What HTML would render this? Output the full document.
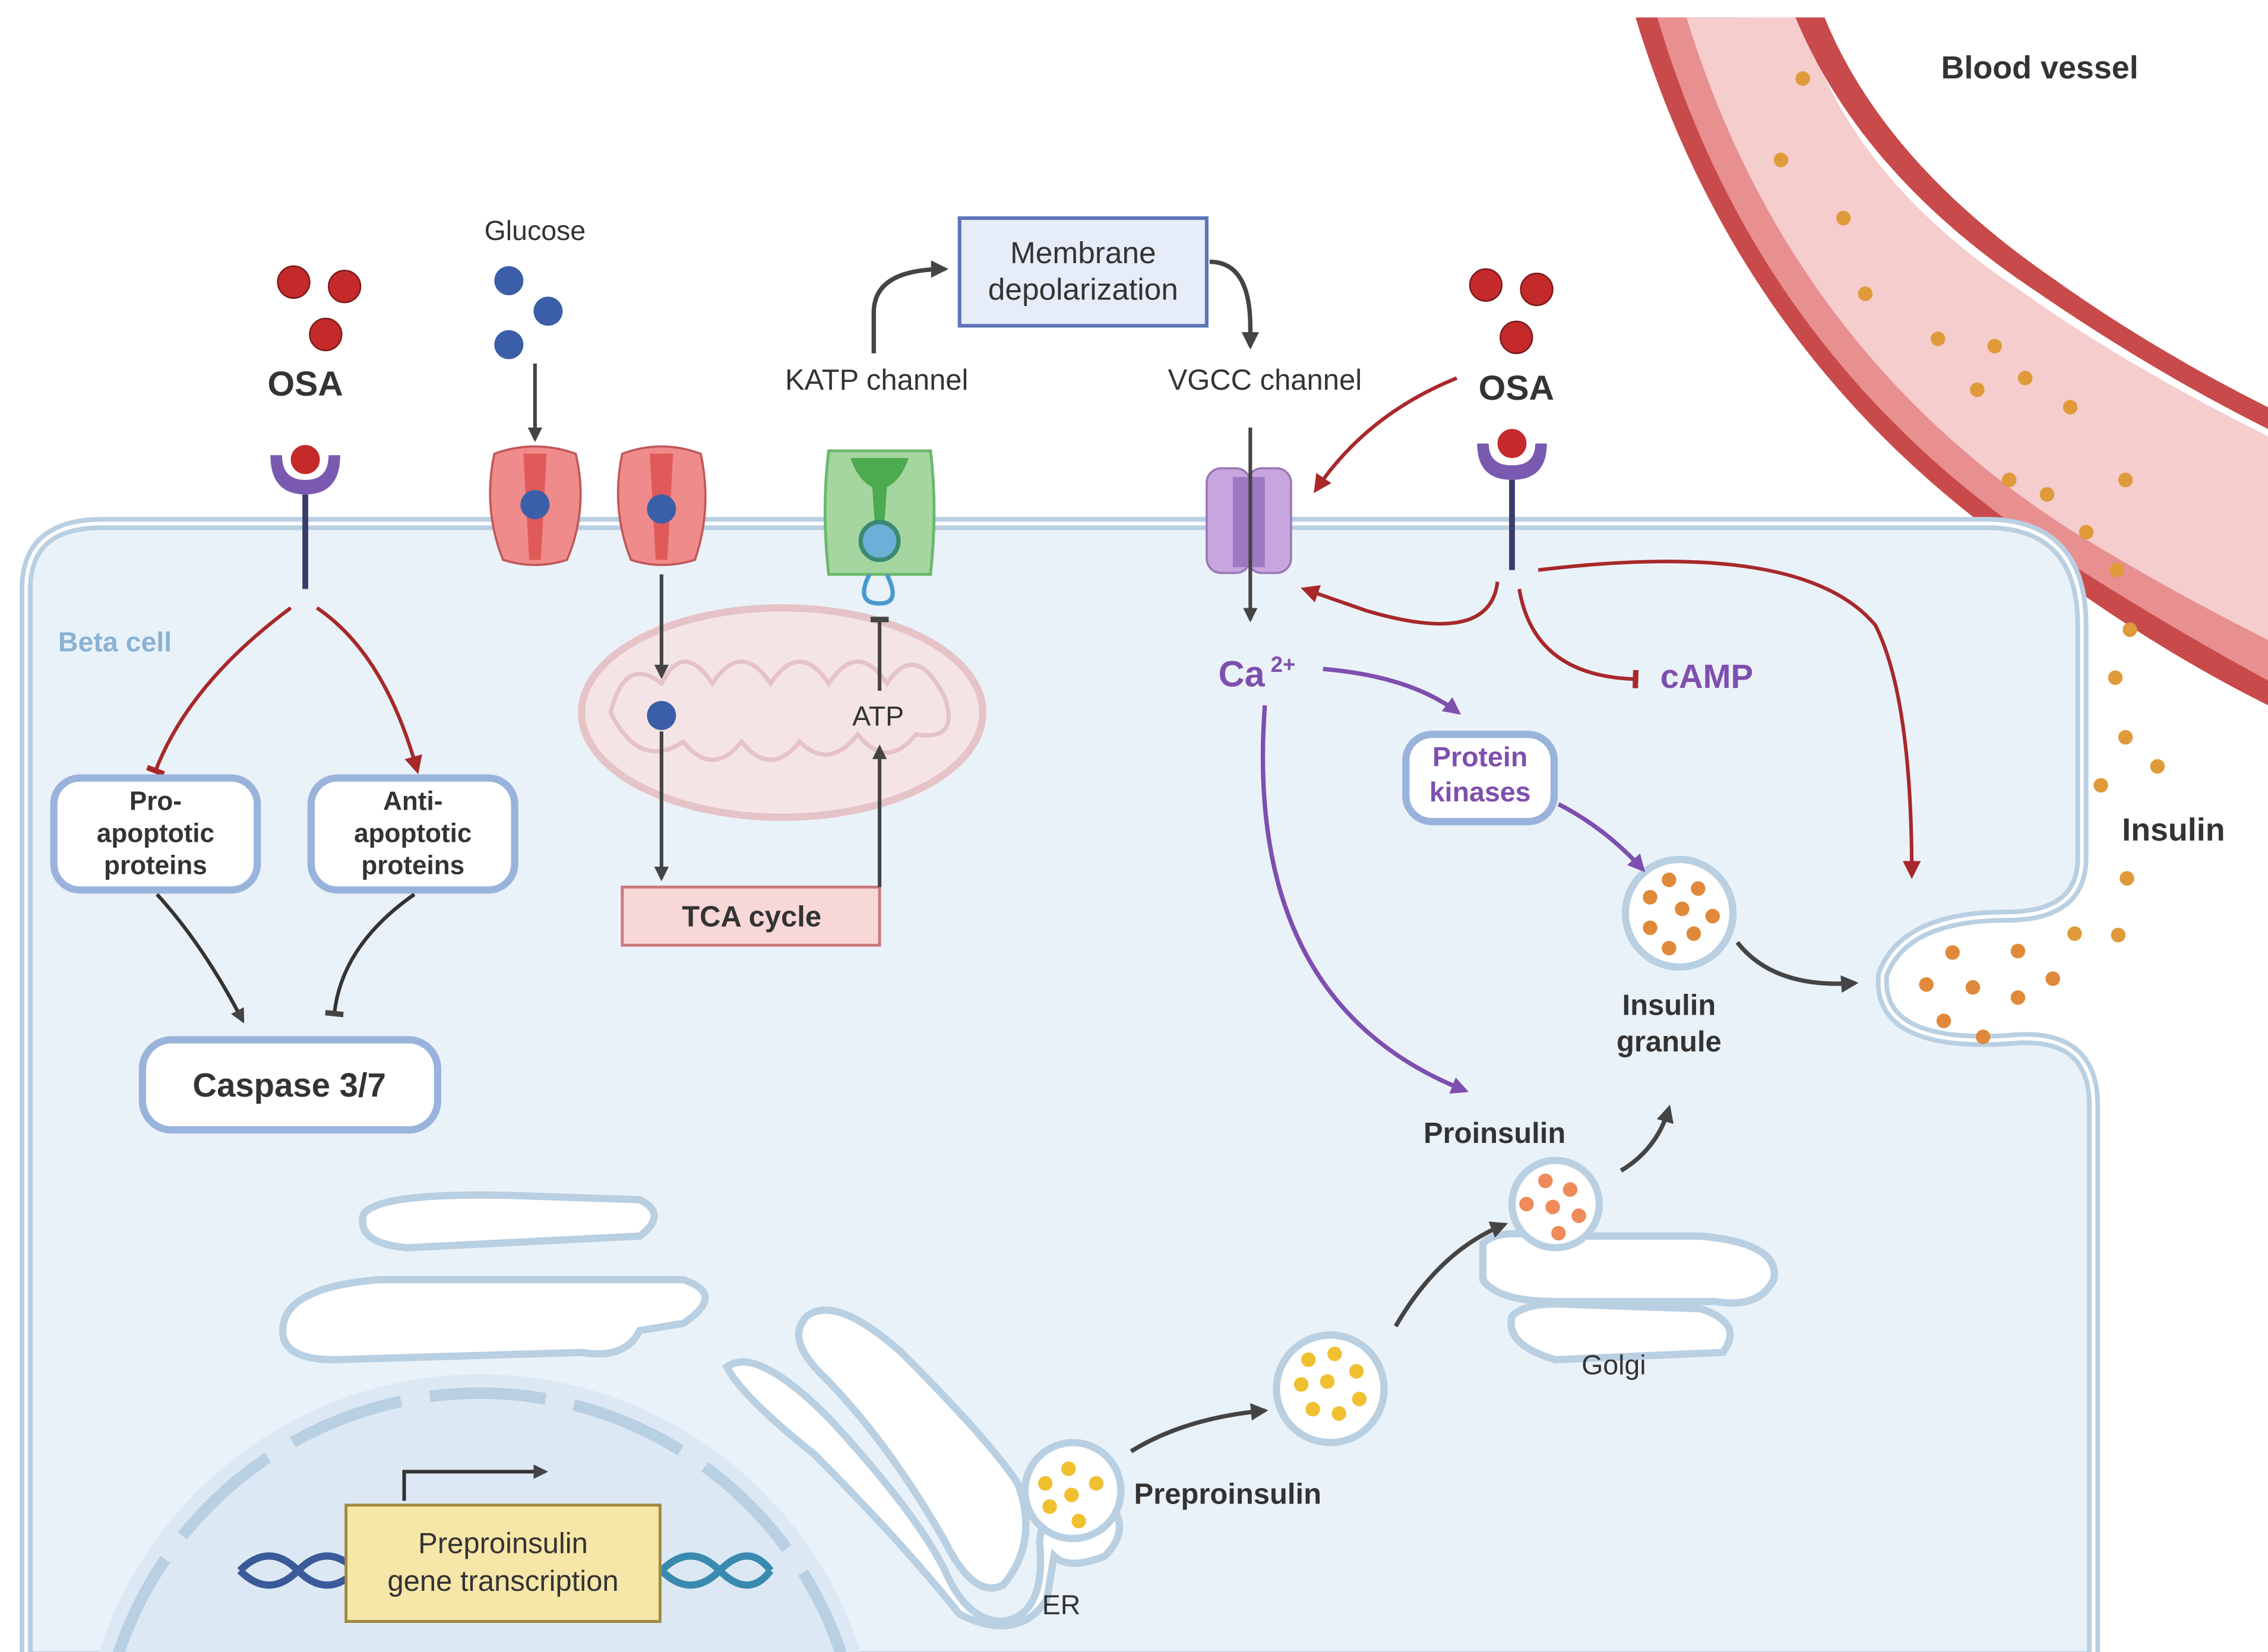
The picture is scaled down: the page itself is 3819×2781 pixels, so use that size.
<!DOCTYPE html>
<html><head><meta charset="utf-8"><style>
html,body{margin:0;padding:0;background:#fff;width:3819px;height:2781px;overflow:hidden}
svg{display:block;position:absolute;left:0;top:0}
text{font-family:"Liberation Sans",sans-serif}
</style></head><body>
<svg width="3819" height="2781" viewBox="0 0 1560 1136" preserveAspectRatio="none" xmlns="http://www.w3.org/2000/svg">
<defs>
<clipPath id="cp"><rect x="0" y="0" width="1560" height="1136"/></clipPath>
<marker id="ag" viewBox="0 0 10 10" refX="8" refY="5" markerWidth="4" markerHeight="4" orient="auto"><path d="M0,0L10,5L0,10z" fill="#444"/></marker>
<marker id="ar" viewBox="0 0 10 10" refX="8" refY="5" markerWidth="5" markerHeight="5" orient="auto"><path d="M0,0L10,5L0,10z" fill="#a8282a"/></marker>
<marker id="ap" viewBox="0 0 10 10" refX="8" refY="5" markerWidth="4" markerHeight="4" orient="auto"><path d="M0,0L10,5L0,10z" fill="#7e4fae"/></marker>
<marker id="tr" viewBox="0 0 10 10" refX="5" refY="5" markerWidth="5" markerHeight="5" orient="auto"><path d="M5,0L5,10" stroke="#a8282a" stroke-width="3"/></marker>
<marker id="tg" viewBox="0 0 10 10" refX="5" refY="5" markerWidth="5" markerHeight="5" orient="auto"><path d="M5,0L5,10" stroke="#444" stroke-width="3"/></marker>
</defs>
<g clip-path="url(#cp)">
<!-- blood vessel -->
<path d="M1125,12 Q1200,260 1420,400 Q1490,450 1560,485 L1560,400 Q1460,340 1380,260 Q1250,140 1195,12 Z" fill="#c84a4a"/>
<path d="M1140,12 Q1210,250 1420,385 Q1490,430 1560,468 L1560,420 Q1470,370 1395,300 Q1260,170 1210,12 Z" fill="#e88f90"/>
<path d="M1160,12 Q1230,240 1425,365 Q1490,405 1560,440 L1560,300 Q1460,250 1390,200 Q1270,120 1240,12 Z" fill="#f5cdcd"/>
<path d="M1235,12 Q1280,120 1400,200 Q1480,255 1560,295 L1560,280 Q1480,240 1410,190 Q1295,110 1255,12 Z" fill="#c84a4a"/>
<g fill="#e09a3a"><circle cx="1240" cy="54" r="5"/><circle cx="1225" cy="110" r="5"/><circle cx="1268" cy="150" r="5"/><circle cx="1283" cy="202" r="5"/><circle cx="1333" cy="233" r="5"/><circle cx="1372" cy="238" r="5"/><circle cx="1393" cy="260" r="5"/><circle cx="1424" cy="280" r="5"/><circle cx="1360" cy="268" r="5"/><circle cx="1382" cy="330" r="5"/><circle cx="1408" cy="340" r="5"/><circle cx="1462" cy="330" r="5"/><circle cx="1435" cy="366" r="5"/><circle cx="1456" cy="392" r="5"/><circle cx="1465" cy="433" r="5"/><circle cx="1455" cy="466" r="5"/><circle cx="1462" cy="507" r="5"/><circle cx="1484" cy="527" r="5"/><circle cx="1445" cy="540" r="5"/><circle cx="1463" cy="604" r="5"/><circle cx="1427" cy="642" r="5"/><circle cx="1457" cy="643" r="5"/></g>
<text x="1403" y="54" font-size="22" font-weight="bold" fill="#333" text-anchor="middle">Blood vessel</text>
<text x="1495" y="578" font-size="22" font-weight="bold" fill="#333" text-anchor="middle">Insulin</text>
<!-- cell -->
<path d="M18,1140 L18,405 Q18,360 70,360 L1370,360 Q1432,362 1432,430 L1432,590 Q1432,630 1380,630 Q1310,630 1295,670 Q1290,720 1380,715 Q1440,708 1440,760 L1440,1140 Z" fill="#eaf2f9" stroke="#b9cfe2" stroke-width="9"/>
<path d="M18,1140 L18,405 Q18,360 70,360 L1370,360 Q1432,362 1432,430 L1432,590 Q1432,630 1380,630 Q1310,630 1295,670 Q1290,720 1380,715 Q1440,708 1440,760 L1440,1140" fill="none" stroke="#fff" stroke-width="2.5"/>
<g fill="#e0893a"><circle cx="1343" cy="655" r="5"/><circle cx="1388" cy="654" r="5"/><circle cx="1325" cy="677" r="5"/><circle cx="1357" cy="679" r="5"/><circle cx="1388" cy="686" r="5"/><circle cx="1412" cy="673" r="5"/><circle cx="1337" cy="702" r="5"/><circle cx="1364" cy="713" r="5"/></g>
<text x="40" y="448" font-size="19" font-weight="bold" fill="#8ab2d3">Beta cell</text>
<!-- nucleus -->
<circle cx="330" cy="1220" r="275" fill="#dce9f4"/>
<circle cx="330" cy="1220" r="262" fill="none" stroke="#b9cfe2" stroke-width="8" stroke-dasharray="80 20"/>
<!-- ER -->
<g fill="#fff" stroke="#b9cfe2" stroke-width="5">
<path d="M250,835 Q260,820 350,822 L440,825 Q460,835 440,850 L280,858 Q245,855 250,835Z"/>
<path d="M195,910 Q200,885 260,880 L470,880 Q500,890 470,910 L440,915 Q430,935 400,930 L230,935 Q190,935 195,910Z"/>
<path d="M555,905 Q575,890 620,930 Q680,990 700,1020 Q715,1060 690,1090 Q670,1100 650,1060 Q610,990 565,945 Q540,920 555,905Z"/>
<path d="M500,940 Q520,925 570,975 Q630,1040 650,1080 Q665,1115 690,1115 Q720,1110 715,1060 L720,1030 Q740,1015 760,1030 Q780,1050 760,1070 Q735,1080 725,1070 L720,1100 Q700,1130 660,1110 Q620,1060 560,1000 Q510,960 500,940Z"/>
<path d="M1020,855 Q1030,845 1060,850 L1170,850 Q1225,855 1220,880 Q1210,900 1180,895 L1070,895 Q1030,895 1020,880Z"/>
<path d="M1040,905 Q1050,895 1080,897 L1170,900 Q1200,910 1185,930 L1070,935 Q1035,925 1040,905Z"/>
</g>
<circle cx="738" cy="1025" r="33" fill="#fff" stroke="#b9cfe2" stroke-width="5"/>
<circle cx="915" cy="955" r="37" fill="#fff" stroke="#b9cfe2" stroke-width="5"/>
<circle cx="1070" cy="828" r="30" fill="#fff" stroke="#b9cfe2" stroke-width="5"/>
<circle cx="1155" cy="628" r="37" fill="#fff" stroke="#b9cfe2" stroke-width="5"/>
<g fill="#f0c030"><circle cx="719" cy="1020" r="5"/><circle cx="735" cy="1010" r="5"/><circle cx="754" cy="1020" r="5"/><circle cx="737" cy="1028" r="5"/><circle cx="722" cy="1036" r="5"/><circle cx="742" cy="1046" r="5"/>
<circle cx="900" cy="935" r="5"/><circle cx="918" cy="931" r="5"/><circle cx="933" cy="943" r="5"/><circle cx="895" cy="952" r="5"/><circle cx="913" cy="950" r="5"/><circle cx="935" cy="962" r="5"/><circle cx="903" cy="969" r="5"/><circle cx="921" cy="972" r="5"/></g>
<g fill="#ef8a5a"><circle cx="1063" cy="812" r="5"/><circle cx="1080" cy="818" r="5"/><circle cx="1050" cy="828" r="5"/><circle cx="1068" cy="830" r="5"/><circle cx="1086" cy="836" r="5"/><circle cx="1072" cy="848" r="5"/></g>
<g fill="#e0893a"><circle cx="1148" cy="605" r="5"/><circle cx="1168" cy="611" r="5"/><circle cx="1135" cy="617" r="5"/><circle cx="1157" cy="625" r="5"/><circle cx="1178" cy="630" r="5"/><circle cx="1135" cy="638" r="5"/><circle cx="1165" cy="642" r="5"/><circle cx="1148" cy="652" r="5"/></g>
<text x="730" y="1110" font-size="19" fill="#333" text-anchor="middle">ER</text>
<text x="1110" y="945" font-size="19" fill="#333" text-anchor="middle">Golgi</text>
<text x="780" y="1034" font-size="20" font-weight="bold" fill="#333">Preproinsulin</text>
<text x="1028" y="786" font-size="20" font-weight="bold" fill="#333" text-anchor="middle">Proinsulin</text>
<text x="1148" y="698" font-size="20" font-weight="bold" fill="#333" text-anchor="middle">Insulin</text>
<text x="1148" y="723" font-size="20" font-weight="bold" fill="#333" text-anchor="middle">granule</text>
<!-- dna & transcription -->
<path d="M165,1080 Q185,1060 205,1080 T245,1080 M165,1080 Q185,1100 205,1080 T245,1080" fill="none" stroke="#3a5a9a" stroke-width="5"/>
<path d="M455,1080 Q475,1060 495,1080 T530,1080 M455,1080 Q475,1100 495,1080 T530,1080" fill="none" stroke="#3a8ab0" stroke-width="5"/>
<rect x="238" y="1035" width="216" height="80" fill="#f6e6a8" stroke="#a08a40" stroke-width="2"/>
<text x="346" y="1068" font-size="20" fill="#333" text-anchor="middle">Preproinsulin</text>
<text x="346" y="1094" font-size="20" fill="#333" text-anchor="middle">gene transcription</text>
<path d="M278,1032 L278,1012 L375,1012" fill="none" stroke="#333" stroke-width="2.5" marker-end="url(#ag)"/>
<!-- mitochondrion -->
<ellipse cx="538" cy="490" rx="138" ry="72" fill="#f5e4e6" stroke="#e5c3c7" stroke-width="5"/>
<path d="M420,490 Q430,450 455,470 Q470,440 490,470 Q510,440 530,470 Q550,440 570,470 Q590,440 610,470 Q630,440 650,480 Q660,510 630,505 Q610,530 590,505 Q570,530 550,510 Q530,535 510,510 Q490,535 470,510 Q440,530 420,490Z" fill="none" stroke="#e5c3c7" stroke-width="3"/>
<circle cx="455" cy="492" r="10" fill="#3a5fa8"/>
<text x="604" y="499" font-size="19" fill="#333" text-anchor="middle">ATP</text>
<rect x="428" y="610" width="177" height="40" fill="#f8d7d7" stroke="#c87a7a" stroke-width="2"/>
<text x="517" y="637" font-size="20" font-weight="bold" fill="#333" text-anchor="middle">TCA cycle</text>
<path d="M455,395 L455,465" stroke="#444" stroke-width="2.5" marker-end="url(#ag)"/>
<path d="M455,503 L455,604" stroke="#444" stroke-width="2.5" marker-end="url(#ag)"/>
<path d="M605,610 L605,514" stroke="#444" stroke-width="2.5" marker-end="url(#ag)"/>
<path d="M605,475 L605,426" stroke="#444" stroke-width="2.5" marker-end="url(#tg)"/>
<!-- glucose -->
<text x="368" y="165" font-size="19" fill="#333" text-anchor="middle">Glucose</text>
<g fill="#3a5fa8"><circle cx="350" cy="193" r="10"/><circle cx="377" cy="214" r="10"/><circle cx="350" cy="237" r="10"/></g>
<path d="M368,250 L368,302" stroke="#444" stroke-width="2.5" marker-end="url(#ag)"/>
<g fill="#f08b8b" stroke="#c05858" stroke-width="1.5"><path d="M340,312 Q368,302 396,312 Q405,350 390,385 Q368,392 346,385 Q332,350 340,312Z"/><path d="M428,312 Q455,302 482,312 Q490,350 478,385 Q455,392 434,385 Q420,350 428,312Z"/></g>
<g fill="#e05a5a"><path d="M360,312 L376,312 L372,385 L364,385Z"/><path d="M447,312 L463,312 L459,385 L451,385Z"/></g>
<circle cx="368" cy="347" r="10" fill="#3a5fa8"/><circle cx="455" cy="350" r="10" fill="#3a5fa8"/>
<!-- KATP -->
<path d="M570,310 L640,310 Q645,350 640,395 L570,395 Q565,350 570,310Z" fill="#a5d6a0" stroke="#6cb86a" stroke-width="2"/>
<path d="M585,315 L625,315 Q620,330 610,335 L608,365 L602,365 L600,335 Q590,330 585,315Z" fill="#4caa50"/>
<circle cx="605" cy="372" r="13" fill="#6ab0d8" stroke="#3a8a70" stroke-width="3"/>
<path d="M598,395 Q588,415 605,415 Q620,415 610,395" fill="none" stroke="#4a9ad0" stroke-width="3"/>
<text x="603" y="268" font-size="20" fill="#333" text-anchor="middle">KATP channel</text>
<path d="M601,243 L601,215 Q601,185 650,185" fill="none" stroke="#444" stroke-width="3" marker-end="url(#ag)"/>
<rect x="660" y="150" width="170" height="74" fill="#e6edf8" stroke="#5d74b8" stroke-width="2.5"/>
<text x="745" y="181" font-size="21" fill="#333" text-anchor="middle">Membrane</text>
<text x="745" y="206" font-size="21" fill="#333" text-anchor="middle">depolarization</text>
<path d="M832,180 Q860,180 860,225 L860,238" fill="none" stroke="#444" stroke-width="3" marker-end="url(#ag)"/>
<text x="870" y="268" font-size="20" fill="#333" text-anchor="middle">VGCC channel</text>
<!-- VGCC -->
<rect x="830" y="322" width="30" height="72" rx="10" fill="#c6a6dc" stroke="#9a78b8" stroke-width="1.5"/>
<rect x="858" y="322" width="30" height="72" rx="10" fill="#c6a6dc" stroke="#9a78b8" stroke-width="1.5"/>
<rect x="848" y="328" width="22" height="62" fill="#9f78c4"/>
<path d="M860,294 L860,426" stroke="#444" stroke-width="2.5" marker-end="url(#ag)"/>
<text x="838" y="472" font-size="25" font-weight="bold" fill="#7e4fae">Ca</text>
<text x="874" y="462" font-size="15" font-weight="bold" fill="#7e4fae">2+</text>
<!-- OSA left -->
<g fill="#c42a2a" stroke="#7a1a1a" stroke-width="1"><circle cx="202" cy="194" r="11"/><circle cx="237" cy="197" r="11"/><circle cx="224" cy="230" r="11"/></g>
<text x="210" y="272" font-size="24" font-weight="bold" fill="#333" text-anchor="middle">OSA</text>
<path d="M186,313 Q186,340 210,340 Q234,340 234,313 L226,313 Q226,330 210,330 Q194,330 194,313Z" fill="#7a5ab0"/>
<circle cx="210" cy="316" r="11" fill="#c42a2a" stroke="#fff" stroke-width="2"/>
<path d="M210,340 L210,405" stroke="#3a3a6a" stroke-width="4"/>
<path d="M200,418 Q130,470 107,530" fill="none" stroke="#a8282a" stroke-width="2.5" marker-end="url(#tr)"/>
<path d="M218,418 Q265,450 287,530" fill="none" stroke="#a8282a" stroke-width="2.5" marker-end="url(#ar)"/>
<g fill="#fff" stroke="#9ab3dc" stroke-width="5"><rect x="37" y="535" width="140" height="77" rx="18"/><rect x="214" y="535" width="140" height="77" rx="18"/><rect x="98" y="715" width="203" height="62" rx="20"/></g>
<g font-size="18" font-weight="bold" fill="#333" text-anchor="middle"><text x="107" y="557">Pro-</text><text x="107" y="579">apoptotic</text><text x="107" y="601">proteins</text><text x="284" y="557">Anti-</text><text x="284" y="579">apoptotic</text><text x="284" y="601">proteins</text></g>
<text x="199" y="754" font-size="23" font-weight="bold" fill="#333" text-anchor="middle">Caspase 3/7</text>
<path d="M108,615 Q140,650 167,702" fill="none" stroke="#333" stroke-width="2.5" marker-end="url(#ag)"/>
<path d="M285,615 Q235,650 230,697" fill="none" stroke="#333" stroke-width="2.5" marker-end="url(#tg)"/>
<!-- OSA right -->
<g fill="#c42a2a" stroke="#7a1a1a" stroke-width="1"><circle cx="1022" cy="196" r="11"/><circle cx="1057" cy="199" r="11"/><circle cx="1043" cy="232" r="11"/></g>
<text x="1043" y="275" font-size="24" font-weight="bold" fill="#333" text-anchor="middle">OSA</text>
<path d="M1016,305 Q1016,330 1040,330 Q1064,330 1064,305 L1056,305 Q1056,320 1040,320 Q1024,320 1024,305Z" fill="#7a5ab0"/>
<circle cx="1040" cy="305" r="11" fill="#c42a2a" stroke="#fff" stroke-width="2"/>
<path d="M1040,330 L1040,392" stroke="#3a3a6a" stroke-width="4"/>
<path d="M1002,260 Q940,285 905,337" fill="none" stroke="#a8282a" stroke-width="2.5" marker-end="url(#ar)"/>
<path d="M1030,400 Q1025,445 940,420 L897,405" fill="none" stroke="#a8282a" stroke-width="2.5" marker-end="url(#ar)"/>
<path d="M1045,405 Q1055,465 1125,467" fill="none" stroke="#a8282a" stroke-width="2.5" marker-end="url(#tr)"/>
<path d="M1058,392 Q1240,370 1290,430 Q1315,480 1315,602" fill="none" stroke="#a8282a" stroke-width="2.5" marker-end="url(#ar)"/>
<text x="1142" y="473" font-size="23" font-weight="bold" fill="#7e4fae">cAMP</text>
<!-- purple -->
<path d="M910,460 Q970,465 1003,490" fill="none" stroke="#7e4fae" stroke-width="3" marker-end="url(#ap)"/>
<rect x="967" y="505" width="102" height="60" rx="18" fill="#fff" stroke="#9ab3dc" stroke-width="5"/>
<text x="1018" y="527" font-size="19" font-weight="bold" fill="#7e4fae" text-anchor="middle">Protein</text>
<text x="1018" y="551" font-size="19" font-weight="bold" fill="#7e4fae" text-anchor="middle">kinases</text>
<path d="M1072,553 Q1105,570 1130,598" fill="none" stroke="#7e4fae" stroke-width="3" marker-end="url(#ap)"/>
<path d="M870,485 Q855,690 1008,750" fill="none" stroke="#7e4fae" stroke-width="3" marker-end="url(#ap)"/>
<!-- gray arrows -->
<path d="M1195,648 Q1220,680 1276,676" fill="none" stroke="#444" stroke-width="3" marker-end="url(#ag)"/>
<path d="M1115,805 Q1140,790 1148,762" fill="none" stroke="#444" stroke-width="3" marker-end="url(#ag)"/>
<path d="M960,912 Q990,860 1035,842" fill="none" stroke="#444" stroke-width="3" marker-end="url(#ag)"/>
<path d="M778,998 Q815,975 870,970" fill="none" stroke="#444" stroke-width="3" marker-end="url(#ag)"/>
</g>
</svg>
</body></html>
